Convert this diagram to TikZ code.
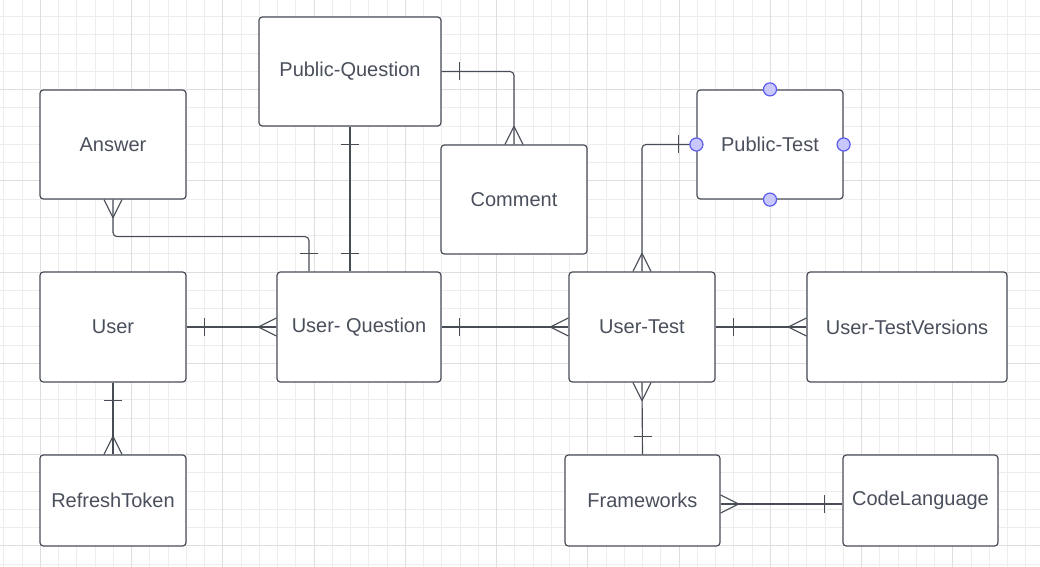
\documentclass[tikz,border=0pt]{standalone}
\usepackage{fontspec}
\setmainfont{Liberation Sans}
\usetikzlibrary{calc}
\definecolor{gridminor}{HTML}{EDEDED}
\definecolor{gridmajor}{HTML}{DEDEDE}
\definecolor{linec}{HTML}{474C55}
\definecolor{textc}{HTML}{4A4F5C}
\definecolor{dotfill}{HTML}{C8C8FF}
\definecolor{dotline}{HTML}{5C5CF0}
\tikzset{
  ent/.style={draw=linec, line width=0.9pt, fill=white, rounded corners=2.5pt,
    inner sep=0pt, text=textc, font=\fontsize{15}{18}\selectfont},
  conn/.style={draw=linec, line width=0.85pt},
  handle/.style={draw=dotline, fill=dotfill, line width=0.9pt},
  many/.pic={\draw[conn] (-18,0) -- (0,9) (-18,0) -- (0,-9);},
  one/.pic={\draw[conn] (-18,-9) -- (-18,9);},
}
\begin{document}
\begin{tikzpicture}[x=0.75pt,y=-0.75pt]
\useasboundingbox (0,0) rectangle (1040,567);
\fill[white] (0,0) rectangle (1040,567);
% grid
\foreach \i in {0,...,57} {\draw[gridminor, line width=0.6pt] ({3.7+18.25*\i},0) -- ({3.7+18.25*\i},567);}
\foreach \j in {0,...,30} {\draw[gridminor, line width=0.6pt] (0,{16.6+18.25*\j}) -- (1040,{16.6+18.25*\j});}
\foreach \i in {0,...,11} {\draw[gridmajor, line width=0.6pt] ({40.2+91.25*\i},0) -- ({40.2+91.25*\i},567);}
\foreach \j in {0,...,5} {\draw[gridmajor, line width=0.6pt] (0,{89.6+91.25*\j}) -- (1040,{89.6+91.25*\j});}

% entities
\node[ent, minimum width=136.5pt, minimum height=81.75pt] (pq) at (350,71.5) {Public-Question};
\node[ent, minimum width=109.5pt, minimum height=81.75pt] (ans) at (113,144.5) {Answer};
\node[ent, minimum width=109.5pt, minimum height=81.75pt] (com) at (514,199.5) {Comment};
\node[ent, minimum width=109.5pt, minimum height=81.75pt] (pt) at (770,144.5) {Public-Test};
\node[ent, minimum width=109.5pt, minimum height=82.5pt] (user) at (113,327) {User};
\node[ent, minimum width=123pt, minimum height=82.5pt] (uq) at (359,327) {User- Question};
\node[ent, minimum width=109.5pt, minimum height=82.5pt] (ut) at (642,327) {User-Test};
\node[ent, minimum width=150pt, minimum height=82.5pt] (utv) at (907,327) {User-TestVersions};
\node[ent, minimum width=109.5pt, minimum height=68.25pt] (rt) at (113,500.5) {RefreshToken};
\node[ent, minimum width=116.25pt, minimum height=68.25pt] (fw) at (642.5,500.5) {Frameworks};
\node[ent, minimum width=116.25pt, minimum height=68.25pt] (cl) at (920.5,500.5) {CodeLanguage};

% helper coordinates
\coordinate (uqA) at ($(uq.north)+(-50,0)$);
\coordinate (fwE) at ($(fw.east)+(0,3.5)$);
\coordinate (clW) at (fwE -| cl.west);

% connectors
\draw[conn] (user.east) -- (uq.west);
\pic[rotate=180] at (user.east) {one};
\pic at (uq.west) {many};

\draw[conn] (uq.east) -- (ut.west);
\pic[rotate=180] at (uq.east) {one};
\pic at (ut.west) {many};

\draw[conn] (ut.east) -- (utv.west);
\pic[rotate=180] at (ut.east) {one};
\pic at (utv.west) {many};

\draw[conn] (user.south) -- (rt.north);
\pic[rotate=90] at (user.south) {one};
\pic[rotate=-90] at (rt.north) {many};

\draw[conn] (ut.south) -- (fw.north);
\pic[rotate=90] at (ut.south) {many};
\pic[rotate=-90] at (fw.north) {one};

\draw[conn] (fwE) -- (clW);
\pic[rotate=180] at (fwE) {many};
\pic at (clW) {one};

\draw[conn] (pq.south) -- (pq.south |- uq.north);
\pic[rotate=90] at (pq.south) {one};
\pic[rotate=-90] at (pq.south |- uq.north) {one};

\draw[conn, rounded corners=3pt] (ans.south) -- ++(0,37) -| (uqA);
\pic[rotate=90] at (ans.south) {many};
\pic[rotate=-90] at (uqA) {one};

\draw[conn, rounded corners=3pt] (pq.east) -| (com.north);
\pic[rotate=180] at (pq.east) {one};
\pic[rotate=-90] at (com.north) {many};

\draw[conn, rounded corners=3pt] (ut.north) |- (pt.west);
\pic[rotate=-90] at (ut.north) {many};
\pic at (pt.west) {one};

% selection handles on Public-Test
\foreach \a in {north,south,east,west} {\draw[handle] (pt.\a) circle (4.9pt);}
\end{tikzpicture}
\end{document}
